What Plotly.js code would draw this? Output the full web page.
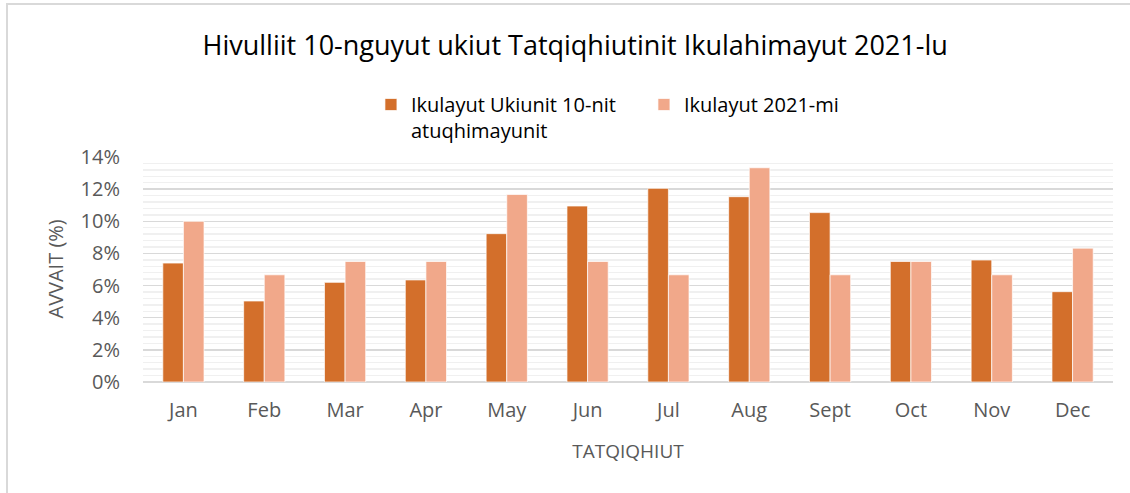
<!DOCTYPE html>
<html>
<head>
<meta charset="utf-8">
<script src="https://cdn.plot.ly/plotly-3.0.1.min.js"></script>
<style>
  html, body { margin: 0; padding: 0; overflow: hidden; background: #fff; }
  #chart { width: 1130px; height: 493px; }
  #frame { position: absolute; left: 6px; top: 3px; width: 1300px; height: 700px;
           border: 2px solid #d9d9d9; pointer-events: none; }
</style>
</head>
<body>
<div id="chart"></div>
<div id="frame"></div>
<script>
const months = ["Jan", "Feb", "Mar", "Apr", "May", "Jun", "Jul", "Aug", "Sept", "Oct", "Nov", "Dec"];
const tenYearAvg = [7.4, 5.04, 6.2, 6.35, 9.23, 10.95, 12.05, 11.53, 10.54, 7.5, 7.59, 5.62];
const year2021 = [10.0, 6.67, 7.5, 7.5, 11.67, 7.5, 6.67, 13.33, 6.67, 7.5, 6.67, 8.33];
const seriesNames = ["Ikulayut Ukiunit 10-nit<br>atuqhimayunit", "Ikulayut 2021-mi"];
const yTicks = [0, 2, 4, 6, 8, 10, 12, 14];
const yTickText = yTicks.map(v => v + "%");
const yTitle = "AVVAIT (%)";

const font = "Open Sans, Noto Sans, sans-serif";

const traces = [
  { type: "bar", name: seriesNames[0], x: months, y: tenYearAvg,
    marker: { color: "#d36f2b", line: { color: "rgba(255,255,255,0.7)", width: 1 } } },
  { type: "bar", name: seriesNames[1], x: months, y: year2021,
    marker: { color: "#f1a88a", line: { color: "rgba(255,255,255,0.7)", width: 1 } } }
];

const layout = {
  width: 1130, height: 493,
  margin: { l: 143, r: 17, t: 157, b: 111 },
  paper_bgcolor: "#fff", plot_bgcolor: "#fff",
  font: { family: font, color: "#595959", size: 19 },
  title: { text: "Hivulliit 10-nguyut ukiut Tatqiqhiutinit Ikulahimayut 2021-lu",
           font: { family: font, size: 27, color: "#000" },
           x: 0.509, xref: "container", xanchor: "center",
           y: 0.908, yref: "container", yanchor: "middle" },
  barmode: "group", bargap: 0.49, bargroupgap: 0,
  showlegend: true,
  legend: { orientation: "h", x: 0.235, xanchor: "left", y: 1.32, yanchor: "top",
            font: { family: font, size: 20, color: "#000" }, valign: "top",
            entrywidth: 228, traceorder: "normal", itemclick: false },
  xaxis: { type: "category", showline: false, ticks: "", ticklabelstandoff: 14,
           tickfont: { family: font, size: 20, color: "#595959" },
           title: { text: "TATQIQHIUT", font: { family: font, size: 19, color: "#595959" }, standoff: 22 } },
  yaxis: { range: [0, 14], tickmode: "array", tickvals: yTicks, ticktext: yTickText, ticks: "",
           ticklabelstandoff: 22,
           showgrid: true, gridcolor: "#d9d9d9", gridwidth: 1.5,
           zeroline: true, zerolinecolor: "#d9d9d9", zerolinewidth: 1.5,
           minor: { dtick: 0.4, showgrid: true, gridcolor: "#f0f0f0", gridwidth: 1.5 },
           tickfont: { family: font, size: 20, color: "#595959" } },
  annotations: [
    { text: yTitle, xref: "paper", yref: "paper", x: -0.0907, y: 0.5,
      xanchor: "center", yanchor: "middle", textangle: -90, showarrow: false,
      font: { family: font, size: 20, color: "#595959" } }
  ]
};

Plotly.newPlot("chart", traces, layout, { displayModeBar: false, staticPlot: true });
</script>
</body>
</html>
